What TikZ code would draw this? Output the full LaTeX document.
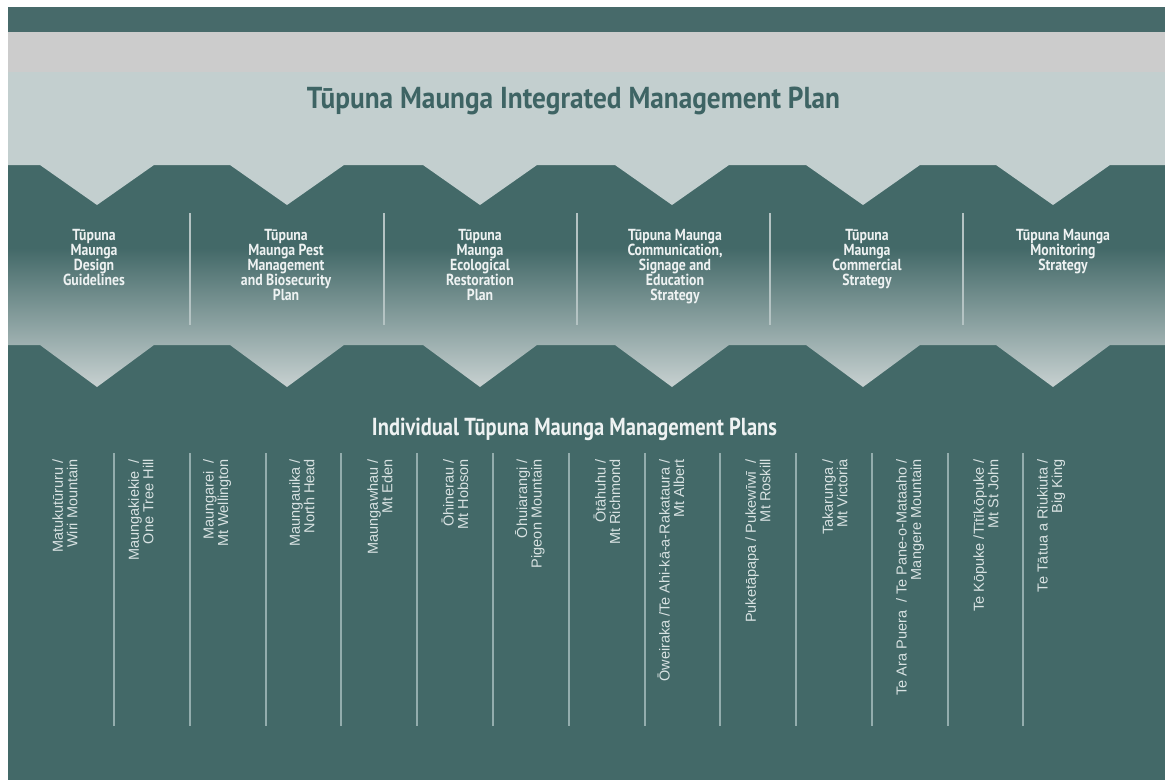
\documentclass[tikz,border=0pt]{standalone}
\usepackage{fontspec}
\usepackage{graphicx}
\setmainfont{Liberation Sans}
\newfontfamily\boldc[FakeStretch=0.86]{PT Sans}
\definecolor{teal0}{HTML}{436968}
\definecolor{topband}{HTML}{476A6A}
\definecolor{grayband}{HTML}{CCCCCC}
\definecolor{lightband}{HTML}{C3CFCF}
\definecolor{shadeend}{HTML}{CAD3D3}
\definecolor{titlec}{HTML}{3E6464}
\definecolor{midtextc}{HTML}{EEF2F2}
\definecolor{listtextc}{HTML}{D8E2E2}
\definecolor{sepc}{HTML}{93ADAD}
\definecolor{sepmidc}{HTML}{B4C3C3}
\begin{document}
\begin{tikzpicture}[x=1pt,y=-1pt,
  midtext/.style={text=midtextc, align=center, inner sep=0pt, anchor=north,
    font=\boldc\bfseries\fontsize{16}{15}\selectfont},
  listtext/.style={text=listtextc, align=right, inner sep=0pt, rotate=90, anchor=east,
    font=\fontsize{14.5}{14.5}\selectfont},
  sepline/.style={sepc, line width=1.5pt},
  sepmid/.style={sepmidc, line width=1.2pt}]
\fill[white] (0,0) rectangle (1165,780);
\useasboundingbox (0,0) rectangle (1165,780);
% bands
\fill[topband] (8,7) rectangle (1165,32);
\fill[grayband] (8,32) rectangle (1165,72);
\fill[teal0] (8,165) rectangle (1165,780);
% shaded middle band with lower tabs
\begin{scope}
\clip (8,165) -- (1165,165) -- (1165,345) -- (1110,345) -- (1053,387) -- (996,345)
  -- (920,345) -- (863,387) -- (806,345) -- (729,345) -- (672,387) -- (615,345)
  -- (537,345) -- (480,387) -- (423,345) -- (344,345) -- (287,387) -- (230,345)
  -- (154,345) -- (97,387) -- (40,345) -- (8,345) -- cycle;
\shade[top color=teal0, bottom color=shadeend] (8,248) rectangle (1165,390);
\end{scope}
% light band with notches
\fill[lightband] (8,72) -- (1165,72) -- (1165,165) -- (1110,165) -- (1053,205) -- (996,165)
  -- (920,165) -- (863,205) -- (806,165) -- (729,165) -- (672,205) -- (615,165)
  -- (537,165) -- (480,205) -- (423,165) -- (344,165) -- (287,205) -- (230,165)
  -- (154,165) -- (97,205) -- (40,165) -- (8,165) -- cycle;
% title
\node[anchor=base, text=titlec, inner sep=0pt] (title) at (573.5,108)
  {\resizebox{533pt}{21.5pt}{\boldc\bfseries Tūpuna Maunga Integrated Management Plan}};
% middle separators
\foreach \x in {190,384,577,770,963} \draw[sepmid] (\x,213) -- (\x,325);
% middle plans
\node[midtext] (p1) at (94,229) {Tūpuna\\Maunga\\Design\\Guidelines};
\node[midtext] (p2) at (286,229) {Tūpuna\\Maunga Pest\\Management\\and Biosecurity\\Plan};
\node[midtext] (p3) at (480,229) {Tūpuna\\Maunga\\Ecological\\Restoration\\Plan};
\node[midtext] (p4) at (675,229) {Tūpuna Maunga\\Communication,\\Signage and\\Education\\Strategy};
\node[midtext] (p5) at (867,229) {Tūpuna\\Maunga\\Commercial\\Strategy};
\node[midtext] (p6) at (1063,229) {Tūpuna Maunga\\Monitoring\\Strategy};
% lower title
\node[anchor=base, text=midtextc, inner sep=0pt] (sub) at (574.5,435)
  {\resizebox{405pt}{17.5pt}{\boldc\bfseries Individual Tūpuna Maunga Management Plans}};
% list separators
\foreach \x in {114,190,266,341,417,493,569,645,720,796,872,948,1023}
  \draw[sepline] (\x,453) -- (\x,726);
% individual plans
\node[listtext] (m1) at (65,459) {Matukutūruru /\\Wiri Mountain};
\node[listtext] (m2) at (141,459) {Maungakiekie\ \ /\\One Tree Hill};
\node[listtext] (m3) at (217,459) {Maungarei\ \ /\\Mt Wellington};
\node[listtext] (m4) at (302,459) {Maungauika /\\North Head};
\node[listtext] (m5) at (380,459) {Maungawhau /\\Mt Eden};
\node[listtext] (m6) at (455,459) {Ōhinerau /\\Mt Hobson};
\node[listtext] (m7) at (530,459) {Ōhuiarangi /\\Pigeon Mountain};
\node[listtext] (m8) at (607,459) {Ōtāhuhu /\\Mt Richmond};
\node[listtext] (m9) at (671,459) {Ōweiraka /Te Ahi-kā-a-Rakataura /\\Mt Albert};
\node[listtext] (m10) at (758,459) {Puketāpapa / Pukewīwī\ \ /\\Mt Roskill};
\node[listtext] (m11) at (835,459) {Takarunga /\\Mt Victoria};
\node[listtext] (m12) at (910,459) {Te Ara Puera\ \ / Te Pane-o-Mataaho /\\Mangere Mountain};
\node[listtext] (m13) at (986,459) {Te Kōpuke /Tītīkōpuke /\\Mt St John};
\node[listtext] (m14) at (1051,459) {Te Tātua a Riukiuta /\\Big King};
\end{tikzpicture}
\end{document}
